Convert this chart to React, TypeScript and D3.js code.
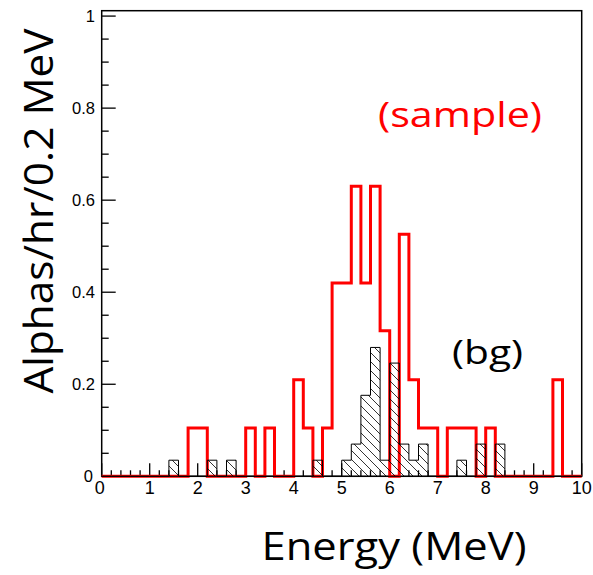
import React from "react";
import * as d3 from "d3";

const binEdgesStart = 0;
const binWidth = 0.2;
// sample (red) rate per 0.2 MeV bin, 50 bins from 0 to 10 MeV
const sampleValues = [
  0, 0, 0, 0, 0, 0, 0, 0, 0, 0.105,
  0.105, 0, 0, 0, 0, 0.105, 0, 0.105, 0, 0,
  0.21, 0.105, 0, 0.105, 0.42, 0.42, 0.63, 0.42, 0.63, 0.316,
  0, 0.526, 0.21, 0.105, 0.105, 0, 0.105, 0.105, 0.105, 0,
  0.105, 0, 0, 0, 0, 0, 0, 0.21, 0, 0,
];
// background (black hatched)
const bgValues = [
  0, 0, 0, 0, 0, 0, 0, 0.035, 0, 0,
  0, 0.035, 0, 0.035, 0, 0, 0, 0, 0, 0,
  0, 0, 0.035, 0, 0, 0.035, 0.07, 0.176, 0.28, 0.035,
  0.246, 0.07, 0.035, 0.07, 0, 0, 0, 0.035, 0, 0.07,
  0, 0.07, 0, 0, 0, 0, 0, 0, 0, 0,
];
const xTickLabels = ["0", "1", "2", "3", "4", "5", "6", "7", "8", "9", "10"];
const yTickLabels = ["0", "0.2", "0.4", "0.6", "0.8", "1"];
const xTitle = "Energy (MeV)";
const yTitle = "Alphas/hr/0.2 MeV";
const sampleLabel = "(sample)";
const bgLabel = "(bg)";

const W = 593;
const H = 575;
const x = d3.scaleLinear().domain([0, 10]).range([101.7, 581.7]);
const y = d3.scaleLinear().domain([0, 1.0117]).range([476.3, 10.7]);

function stepPoints(vals: number[]): [number, number][] {
  const pts: [number, number][] = vals.map((v, i) => [binEdgesStart + i * binWidth, v]);
  pts.push([binEdgesStart + vals.length * binWidth, vals[vals.length - 1]]);
  return pts;
}

export default function App() {
  const line = d3
    .line<[number, number]>()
    .x((d) => x(d[0]))
    .y((d) => y(d[1]))
    .curve(d3.curveStepAfter);
  const area = d3
    .area<[number, number]>()
    .x((d) => x(d[0]))
    .y0(y(0))
    .y1((d) => y(d[1]))
    .curve(d3.curveStepAfter);

  const redPath = line([[0, 0], ...stepPoints(sampleValues), [10, 0]]) || "";
  const bgPath = area(stepPoints(bgValues)) || "";

  const minorX = d3.range(0, 10.0001, 0.2);
  const minorY = d3.range(0, 1.0001, 0.05);
  const majorY = [0, 0.2, 0.4, 0.6, 0.8, 1];
  const font = "'Liberation Sans', Arial, sans-serif";
  const bigFont = "'Open Sans', Lato, sans-serif";

  return (
    <svg
      width={W}
      height={H}
      style={{ position: "absolute", left: 0, top: 0, background: "#fff" }}
    >
      <defs>
        <pattern id="hatch" patternUnits="userSpaceOnUse" width={9} height={9}>
          <path d="M-2,-2 L11,11 M-2,7 L2,11 M7,-2 L11,2" stroke="#000" strokeWidth={0.8} />
        </pattern>
      </defs>
      <rect x={0} y={0} width={W} height={H} fill="#fff" />

      {/* frame */}
      <rect
        x={x(0)}
        y={y(1.0117)}
        width={x(10) - x(0)}
        height={y(0) - y(1.0117)}
        fill="none"
        stroke="#000"
        strokeWidth={1.5}
      />

      {/* y ticks */}
      {minorY.map((v, i) => {
        const isMajor = Math.abs(v * 5 - Math.round(v * 5)) < 1e-6;
        return (
          <line
            key={"yt" + i}
            x1={x(0)}
            x2={x(0) + (isMajor ? 14 : 7)}
            y1={y(v)}
            y2={y(v)}
            stroke="#000"
            strokeWidth={1.3}
          />
        );
      })}
      {/* x ticks */}
      {minorX.map((v, i) => {
        const isMajor = Math.abs(v - Math.round(v)) < 1e-6;
        return (
          <line
            key={"xt" + i}
            x1={x(v)}
            x2={x(v)}
            y1={y(0)}
            y2={y(0) - (isMajor ? 13 : 6)}
            stroke="#000"
            strokeWidth={1.3}
          />
        );
      })}

      {/* sample histogram */}
      <path d={redPath} fill="none" stroke="#ff0000" strokeWidth={3} strokeLinejoin="miter" />

      {/* background histogram */}
      <path d={bgPath} fill="url(#hatch)" stroke="#000" strokeWidth={1} />

      {/* y tick labels */}
      {majorY.map((v, i) => (
        <text
          key={"yl" + i}
          x={v === 0 ? 93 : 95}
          y={v === 0 ? 482 : y(v) + 6}
          fontFamily={font}
          fontSize={16.5}
          textAnchor="end"
        >
          {yTickLabels[i]}
        </text>
      ))}
      {/* x tick labels */}
      {xTickLabels.map((t, i) => (
        <text
          key={"xl" + i}
          x={i === 0 ? x(0) - 2 : x(i)}
          y={494}
          fontFamily={font}
          fontSize={18}
          textAnchor="middle"
        >
          {t}
        </text>
      ))}

      {/* titles */}
      <text
        x={394}
        y={560}
        fontFamily={bigFont}
        fontWeight={400}
        fontSize={39}
        textAnchor="middle"
        textLength={265}
        lengthAdjust="spacingAndGlyphs"
      >
        {xTitle}
      </text>
      <text
        transform="translate(53,211) rotate(-90)"
        fontFamily={bigFont}
        fontWeight={400}
        fontSize={40}
        textAnchor="middle"
        textLength={365}
        lengthAdjust="spacingAndGlyphs"
      >
        {yTitle}
      </text>
      <text
        x={460}
        y={127}
        fontFamily={bigFont}
        fontWeight={400}
        fontSize={35}
        fill="#ff0000"
        textAnchor="middle"
        textLength={164}
        lengthAdjust="spacingAndGlyphs"
      >
        {sampleLabel}
      </text>
      <text
        x={487.5}
        y={364}
        fontFamily={bigFont}
        fontWeight={400}
        fontSize={33}
        fill="#000"
        textAnchor="middle"
        textLength={71}
        lengthAdjust="spacingAndGlyphs"
      >
        {bgLabel}
      </text>
    </svg>
  );
}
